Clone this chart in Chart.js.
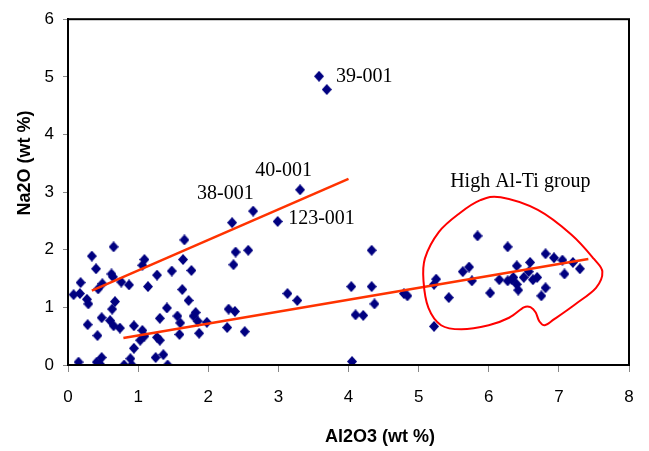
<!DOCTYPE html>
<html>
<head>
<meta charset="utf-8">
<script src="https://cdn.jsdelivr.net/npm/chart.js@4.4.1/dist/chart.umd.min.js"></script>
<style>
  html, body { margin: 0; padding: 0; background: #fff; }
  #wrap { width: 649px; height: 451px; }
</style>
</head>
<body>
<div id="wrap"><canvas id="c" width="649" height="451"></canvas></div>
<script>
// Al2O3 (wt %) vs Na2O (wt %) analyses
const al2o3 = [
  0.08, 0.17, 0.18, 0.15, 0.27, 0.29, 0.28, 0.34, 0.40, 0.43, 0.42, 0.41, 0.46, 0.48, 0.48, 0.49,
  0.62, 0.64, 0.65, 0.63, 0.67, 0.60, 0.65, 0.74, 0.76, 0.80, 0.87, 0.89, 0.91, 0.94, 0.94,
  1.06, 1.03, 1.09, 1.06, 1.09, 1.14, 1.25, 1.27, 1.27, 1.31, 1.31, 1.36, 1.41, 1.42, 1.48,
  1.56, 1.60, 1.59, 1.63, 1.66, 1.72, 1.76, 1.64, 1.79, 1.82, 1.85, 1.87, 1.98,
  2.27, 2.29, 2.38, 2.34, 2.39, 2.36, 2.52, 2.57, 2.64, 2.99, 3.13, 3.27, 3.31, 3.58, 3.69,
  4.04, 4.10, 4.21, 4.05, 4.33, 4.33, 4.37, 4.79, 4.84,
  5.22, 5.25, 5.22, 5.43, 5.63, 5.72, 5.76, 5.84, 6.02, 6.15, 6.27, 6.27, 6.33, 6.35, 6.40, 6.40,
  6.42, 6.50, 6.59, 6.57, 6.63, 6.69, 6.75, 6.81, 6.81, 6.93, 7.05, 7.08, 7.20, 7.30
];
const na2o = [
  1.22, 1.24, 1.43, 0.05, 1.14, 1.06, 0.70, 1.89, 1.67, 1.32, 0.51, 0.05, 0.01, 0.13, 0.82, 1.41,
  1.58, 1.53, 2.05, 0.97, 1.10, 0.77, 0.68, 0.64, 1.44, 0.00, 1.39, 0.11, 0.00, 0.68, 0.29,
  0.60, 0.43, 0.50, 1.73, 1.83, 1.36, 0.13, 1.56, 0.48, 0.43, 0.81, 0.18, 0.99, 0.00, 1.63,
  0.85, 0.73, 0.53, 1.31, 2.17, 1.12, 1.64, 1.83, 0.85, 0.91, 0.76, 0.55, 0.74,
  0.65, 0.97, 0.93, 2.47, 1.96, 1.74, 0.58, 1.99, 2.67, 2.49, 1.24, 1.12, 3.04, 5.01, 4.78,
  1.36, 0.87, 0.86, 0.06, 1.99, 1.36, 1.06, 1.24, 1.20,
  1.40, 1.49, 0.67, 1.17, 1.62, 1.70, 1.46, 2.24, 1.25, 1.48, 2.05, 1.46, 1.48, 1.52, 1.72, 1.40,
  1.30, 1.52, 1.78, 1.62, 1.48, 1.52, 1.20, 1.34, 1.93, 1.86, 1.82, 1.58, 1.78, 1.67
];

// Trend lines (endpoints in data units)
const trendUpperX = [0.34, 4.00];
const trendUpperY = [1.29, 3.23];
const trendLowerX = [0.79, 7.42];
const trendLowerY = [0.47, 1.84];

// Outline around the high Al-Ti group (data units, clockwise from the top)
const groupX = [6.17, 6.70, 7.18, 7.50, 7.62, 7.53, 7.23, 6.94, 6.80, 6.72, 6.67, 6.60, 6.50, 6.29, 6.00, 5.61, 5.32, 5.14, 5.07, 5.09, 5.29, 5.58, 5.88];
const groupY = [2.91, 2.69, 2.26, 1.84, 1.62, 1.34, 1.05, 0.80, 0.69, 0.76, 0.91, 1.00, 1.00, 0.82, 0.69, 0.62, 0.69, 0.99, 1.45, 1.85, 2.31, 2.63, 2.86];

// Sample labels
const labelText = ['39-001', '40-001', '38-001', '123-001', 'High Al-Ti group'];
const labelX = [3.82, 2.67, 1.84, 3.14, 5.45];
const labelY = [5.01, 3.37, 2.97, 2.54, 3.18];

// Tick values and axis titles
const xTicks = [0, 1, 2, 3, 4, 5, 6, 7, 8];
const yTicks = [0, 1, 2, 3, 4, 5, 6];
const xTitle = 'Al2O3 (wt %)';
const yTitle = 'Na2O (wt %)';

const points = al2o3.map((x, i) => ({ x: x, y: na2o[i] }));
const toXY = (xs, ys) => xs.map((x, i) => ({ x: x, y: ys[i] }));

// diamond marker
const diamond = document.createElement('canvas');
diamond.width = 10; diamond.height = 11;
(function () {
  const g = diamond.getContext('2d');
  g.fillStyle = '#000080';
  g.beginPath();
  g.moveTo(5, 0); g.lineTo(10, 5.5); g.lineTo(5, 11); g.lineTo(0, 5.5);
  g.closePath(); g.fill();
})();

const SANS = "'Liberation Sans', Arial, sans-serif";
const SERIF = "'Liberation Serif', 'Times New Roman', serif";

// Frame around the plotting area
const framePlugin = {
  id: 'frame',
  afterDraw(chart) {
    const { ctx, chartArea: a } = chart;
    ctx.save();
    ctx.strokeStyle = '#000';
    ctx.lineWidth = 2;
    ctx.strokeRect(a.left, a.top, a.right - a.left, a.bottom - a.top);
    ctx.restore();
  }
};

// Closed smooth outline through the group points
const groupPlugin = {
  id: 'groupOutline',
  afterDatasetsDraw(chart) {
    const { ctx, scales } = chart;
    const p = groupX.map((x, i) => [scales.x.getPixelForValue(x), scales.y.getPixelForValue(groupY[i])]);
    const n = p.length, t = 1 / 6;
    ctx.save();
    ctx.strokeStyle = '#FF0000';
    ctx.lineWidth = 2;
    ctx.beginPath();
    ctx.moveTo(p[0][0], p[0][1]);
    for (let i = 0; i < n; i++) {
      const p0 = p[(i - 1 + n) % n], p1 = p[i], p2 = p[(i + 1) % n], p3 = p[(i + 2) % n];
      ctx.bezierCurveTo(
        p1[0] + (p2[0] - p0[0]) * t, p1[1] + (p2[1] - p0[1]) * t,
        p2[0] - (p3[0] - p1[0]) * t, p2[1] - (p3[1] - p1[1]) * t,
        p2[0], p2[1]);
    }
    ctx.closePath();
    ctx.stroke();
    ctx.restore();
  }
};

// Text labels placed in data coordinates, plus the axis titles
const labelPlugin = {
  id: 'labels',
  afterDraw(chart) {
    const { ctx, scales } = chart;
    ctx.save();
    ctx.fillStyle = '#000';
    ctx.font = '20px ' + SERIF;
    ctx.textAlign = 'left';
    ctx.textBaseline = 'middle';
    labelText.forEach((s, i) => {
      ctx.fillText(s, scales.x.getPixelForValue(labelX[i]), scales.y.getPixelForValue(labelY[i]));
    });

    ctx.font = 'bold 18px ' + SANS;
    ctx.textAlign = 'center';
    ctx.fillText(xTitle, 380, 437);
    ctx.translate(25, 163);
    ctx.rotate(-Math.PI / 2);
    ctx.fillText(yTitle, 0, 0);
    ctx.restore();
  }
};

new Chart(document.getElementById('c'), {
  data: {
    datasets: [
      {
        type: 'line', data: toXY(trendUpperX, trendUpperY),
        borderColor: '#FF3300', borderWidth: 2.5, pointRadius: 0, fill: false, order: 0
      },
      {
        type: 'line', data: toXY(trendLowerX, trendLowerY),
        borderColor: '#FF3300', borderWidth: 2.5, pointRadius: 0, fill: false, order: 0
      },
      {
        type: 'scatter', data: points,
        pointStyle: diamond, pointRadius: 5, pointHoverRadius: 5,
        backgroundColor: '#000080', borderColor: '#000080', order: 1
      }
    ]
  },
  options: {
    responsive: false,
    animation: false,
    events: [],
    layout: { padding: { top: 17, right: 20, bottom: 0, left: 0 } },
    plugins: { legend: { display: false }, tooltip: { enabled: false } },
    scales: {
      x: {
        type: 'linear', min: 0, max: 8,
        afterBuildTicks(s) { s.ticks = xTicks.map(v => ({ value: v })); },
        afterFit(s) { s.height = 86; },
        border: { display: true, color: '#000', width: 2 },
        grid: { display: true, drawOnChartArea: false, drawTicks: true, tickLength: 7, color: '#888', tickWidth: 1 },
        ticks: { color: '#000', font: { family: SANS, size: 17, lineHeight: 2.0 }, padding: 8, maxRotation: 0 },
        title: { display: false }
      },
      y: {
        type: 'linear', min: 0, max: 6,
        afterBuildTicks(s) { s.ticks = yTicks.map(v => ({ value: v })); },
        afterFit(s) { s.width = 68; },
        border: { display: true, color: '#000', width: 2 },
        grid: { display: true, drawOnChartArea: false, drawTicks: true, tickLength: 5, color: '#888', tickWidth: 1 },
        ticks: { color: '#000', font: { family: SANS, size: 17 }, padding: 9 },
        title: { display: false }
      }
    }
  },
  plugins: [groupPlugin, framePlugin, labelPlugin]
});
</script>
</body>
</html>
